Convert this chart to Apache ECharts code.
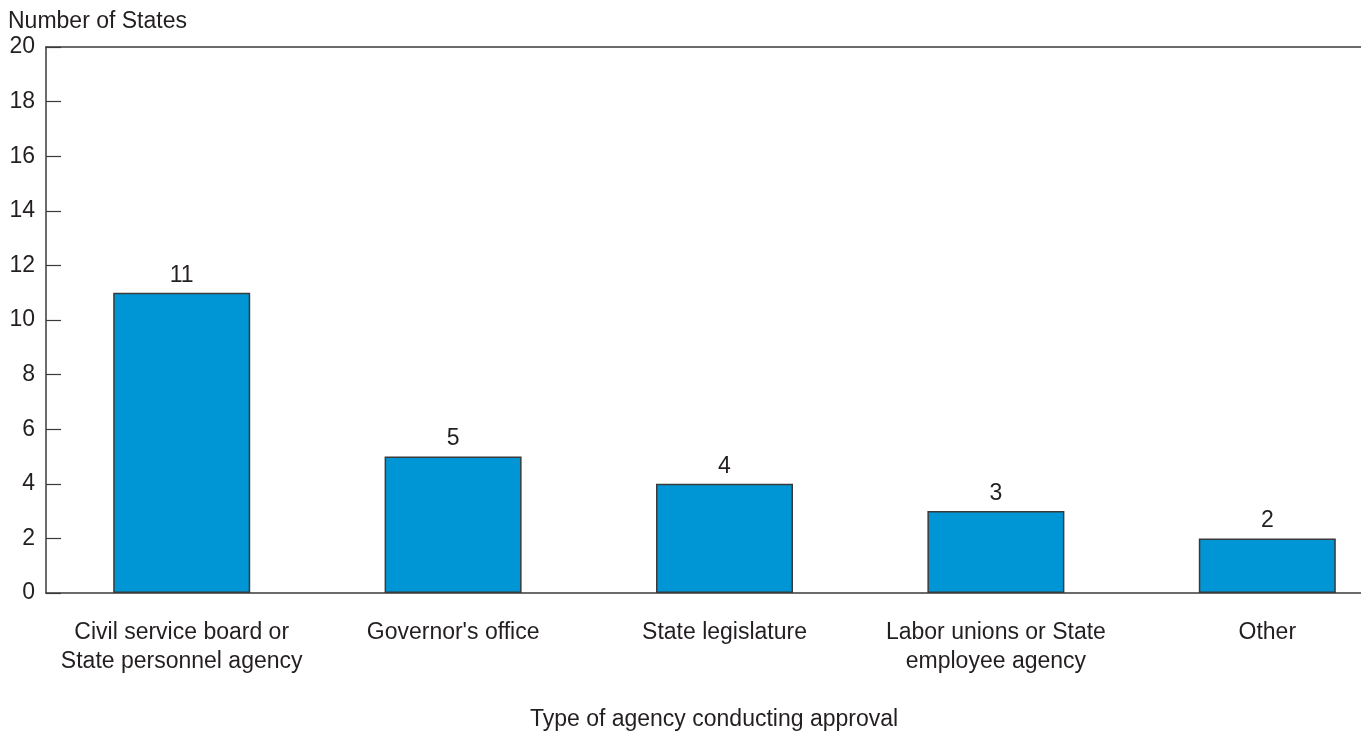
<!DOCTYPE html>
<html>
<head>
<meta charset="utf-8">
<title>Number of States by type of agency conducting approval</title>
<script src="https://cdn.jsdelivr.net/npm/echarts@6/dist/echarts.min.js"></script>
<style>
  html, body { margin: 0; padding: 0; background: #ffffff; }
  #chart { width: 1361px; height: 734px; }
</style>
</head>
<body>
<div id="chart"></div>
<script>
// Agency types (x axis) and the number of States for each
const categories = [
  'Civil service board or\nState personnel agency',
  "Governor's office",
  'State legislature',
  'Labor unions or State\nemployee agency',
  'Other'
];
const stateCounts = [11, 5, 4, 3, 2];

// Value axis scale
const yMin = 0;
const yMax = 20;
const yStep = 2;

const yAxisTitle = 'Number of States';
const xAxisTitle = 'Type of agency conducting approval';

const FONT = '"Liberation Sans", Arial, Helvetica, sans-serif';
const FS = 23;
const INK = '#231f20';
const LINE = '#3a3a3a';
const BAR = '#0096d6';

const chart = echarts.init(document.getElementById('chart'));

chart.setOption({
  backgroundColor: '#ffffff',
  animation: false,
  textStyle: { fontFamily: FONT, color: INK },
  // the plot runs past the right edge of the page
  grid: { left: 46, top: 47, bottom: 141, right: -42, outerBoundsMode: 'none', containLabel: false },
  graphic: [
    {
      type: 'text',
      x: 8,
      y: 10,
      style: { text: yAxisTitle, font: FS + 'px ' + FONT, fill: INK }
    },
    {
      type: 'text',
      x: 714,
      y: 708,
      style: { text: xAxisTitle, font: FS + 'px ' + FONT, fill: INK, align: 'center' }
    }
  ],
  xAxis: [
    {
      type: 'category',
      data: categories,
      position: 'bottom',
      axisLine: { show: true, lineStyle: { color: LINE, width: 1.5 } },
      axisTick: { show: false },
      axisLabel: {
        interval: 0,
        color: INK,
        fontFamily: FONT,
        fontSize: FS,
        lineHeight: 29,
        margin: 25,
        align: 'center'
      },
      splitLine: { show: false }
    },
    {
      // frame line along the top of the plot
      type: 'category',
      data: categories,
      position: 'top',
      axisLine: { show: true, lineStyle: { color: LINE, width: 1.5 } },
      axisTick: { show: false },
      axisLabel: { show: false },
      splitLine: { show: false }
    }
  ],
  yAxis: {
    type: 'value',
    min: yMin,
    max: yMax,
    interval: yStep,
    axisLine: { show: true, lineStyle: { color: LINE, width: 1.5 } },
    axisTick: { show: true, inside: true, length: 15, lineStyle: { color: LINE, width: 1.2 } },
    axisLabel: { color: INK, fontFamily: FONT, fontSize: FS, margin: 11 },
    splitLine: { show: false }
  },
  series: [
    {
      type: 'bar',
      xAxisIndex: 0,
      data: stateCounts,
      barWidth: 137,
      itemStyle: { color: BAR, borderColor: LINE, borderWidth: 1.5 },
      label: {
        show: true,
        position: 'top',
        distance: 6,
        color: INK,
        fontFamily: FONT,
        fontSize: FS
      }
    }
  ]
});
</script>
</body>
</html>
